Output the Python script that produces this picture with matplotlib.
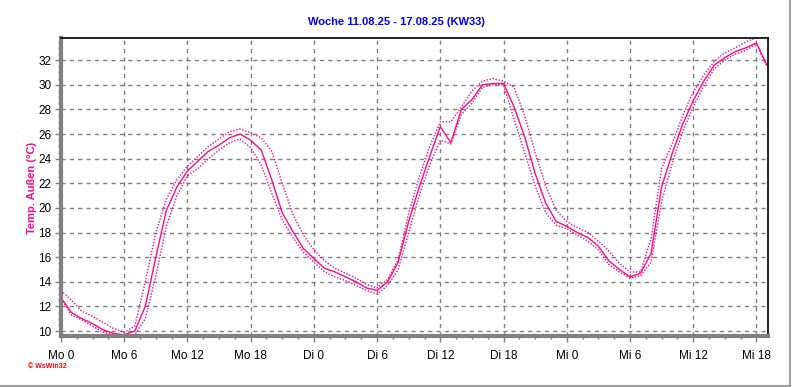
import matplotlib
matplotlib.use("Agg")
import matplotlib.pyplot as plt
from matplotlib.ticker import MultipleLocator, FixedLocator
from matplotlib.lines import Line2D

title = "Woche 11.08.25 - 17.08.25 (KW33)"
ylabel = "Temp. Außen (°C)"
hours = list(range(68))
temp_mean = [12.7, 11.5, 11.0, 10.6, 10.1, 9.8, 9.7, 10.0, 12.0, 16.0,
             19.8, 21.7, 23.0, 23.8, 24.6, 25.1, 25.7, 26.0, 25.5, 24.7,
             22.3, 19.6, 18.1, 16.7, 15.9, 15.1, 14.8, 14.4, 14.0, 13.5,
             13.3, 14.0, 15.6, 18.9, 21.7, 24.2, 26.6, 25.3, 28.0, 28.8,
             30.0, 30.1, 30.1, 28.2, 25.8, 22.8, 20.4, 18.9, 18.5, 18.0,
             17.6, 16.9, 15.7, 15.0, 14.4, 14.7, 16.3, 21.7, 24.4, 26.8,
             28.7, 30.3, 31.6, 32.2, 32.7, 33.0, 33.4, 31.6]
temp_max = [13.3, 12.5, 11.6, 11.2, 10.7, 10.2, 9.9, 10.4, 14.0, 18.0,
            20.7, 22.3, 23.4, 24.2, 25.0, 25.6, 26.2, 26.4, 26.1, 25.7,
            24.6, 22.0, 19.5, 17.8, 16.6, 15.7, 15.1, 14.7, 14.3, 13.8,
            13.5, 14.2, 15.8, 19.6, 22.5, 25.0, 27.0, 27.0, 28.2, 29.5,
            30.3, 30.5, 30.3, 29.8, 27.5, 24.5, 21.8, 19.8, 18.9, 18.4,
            18.0, 17.3, 16.5, 15.5, 14.8, 14.8, 17.5, 23.2, 25.2, 27.5,
            29.4, 30.8, 31.9, 32.6, 33.0, 33.5, 33.8, 33.9]
temp_min = [12.6, 11.3, 10.9, 10.4, 9.9, 9.7, 9.6, 9.7, 11.0, 14.5,
            18.5, 21.0, 22.6, 23.2, 24.0, 24.7, 25.3, 25.6, 24.9, 23.5,
            21.2, 19.0, 17.6, 16.4, 15.6, 14.8, 14.4, 14.1, 13.7, 13.3,
            13.0, 13.7, 15.0, 18.0, 21.0, 23.5, 25.5, 25.2, 27.6, 28.5,
            29.8, 30.0, 30.0, 27.2, 24.5, 21.8, 19.6, 18.6, 18.3, 17.8,
            17.3, 16.6, 15.4, 14.8, 14.3, 14.5, 15.6, 20.5, 23.6, 26.2,
            28.2, 29.9, 31.3, 32.0, 32.5, 32.8, 33.3, 31.5]
tick_hours = [0, 6, 12, 18, 24, 30, 36, 42, 48, 54, 60, 66]
tick_labels = ["Mo 0", "Mo 6", "Mo 12", "Mo 18", "Di 0", "Di 6", "Di 12",
               "Di 18", "Mi 0", "Mi 6", "Mi 12", "Mi 18"]
y_ticks = [10, 12, 14, 16, 18, 20, 22, 24, 26, 28, 30, 32]

plt.rcParams['font.family'] = ['Liberation Sans', 'DejaVu Sans']
pink = "#FF0A80"

fig = plt.figure(figsize=(7.92, 3.87), dpi=100)
ax = fig.add_axes([61/792, 1-336/387, (768-61)/792, (336-38)/387])

ax.plot(hours, temp_max, color=pink, lw=1.0, linestyle=(0, (1, 1.2)))
ax.plot(hours, temp_min, color=pink, lw=1.0, linestyle=(0, (1, 1.2)))
ax.plot(hours, temp_mean, color=pink, lw=1.0)

ax.set_xlim(0, 67.1)
ax.set_ylim(9.6, 33.8)
ax.xaxis.set_major_locator(FixedLocator(tick_hours))
ax.set_xticklabels(tick_labels)
ax.xaxis.set_minor_locator(MultipleLocator(1.5))
ax.yaxis.set_major_locator(FixedLocator(y_ticks))
ax.yaxis.set_minor_locator(MultipleLocator(0.5))

ax.grid(True, which='major', color='#808080', linestyle=(0, (3, 3)), lw=1.0)
ax.tick_params(axis='both', which='major', labelsize=8.5, color='#808080',
               length=4, width=1, pad=3)
ax.tick_params(axis='x', which='major', pad=6)
ax.tick_params(axis='both', which='minor', color='#808080', length=2, width=1)

for side in ('left', 'bottom'):
    ax.spines[side].set_color('#808080')
    ax.spines[side].set_linewidth(3)
for side in ('top', 'right'):
    ax.spines[side].set_color('black')
    ax.spines[side].set_linewidth(1.2)

fig.text(396/792, 1-22/387, title, color='#0000FF', fontsize=8,
         fontweight='bold', ha='center', va='center')
fig.text(32/792, 1-188/387, ylabel, color=pink, fontsize=8,
         fontweight='bold', ha='center', va='center', rotation=90)
fig.text(28/792, 1-367/387, "© WsWin32", color='red', fontsize=5,
         fontweight='bold', ha='left', va='center')

fig.add_artist(Line2D([789.5/792, 789.5/792], [1-385.5/387, 1], color='#A0A0A0',
                      lw=1.5, transform=fig.transFigure))
fig.add_artist(Line2D([0, 789.5/792], [1-385.5/387, 1-385.5/387], color='#A0A0A0',
                      lw=1.5, transform=fig.transFigure))

fig.savefig("out.png", dpi=100)
